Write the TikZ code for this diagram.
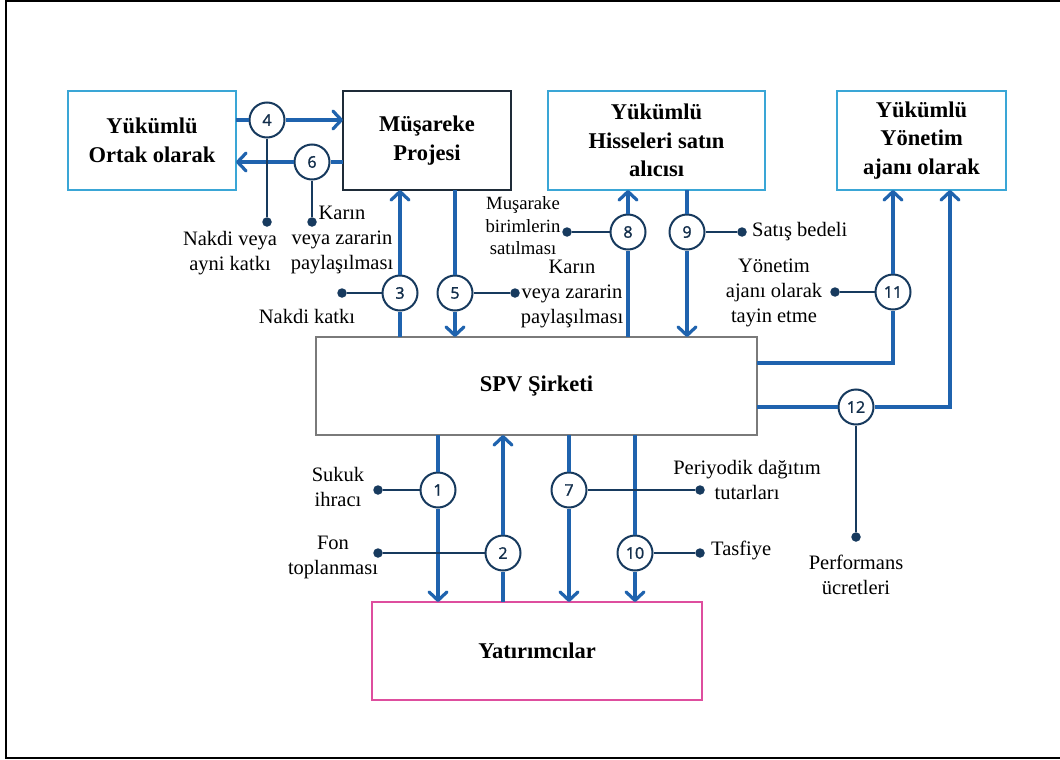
\documentclass[tikz,border=0pt]{standalone}
\usepackage{fontspec}
\setmainfont{Liberation Serif}
\newfontfamily\numfont{Open Sans}[FakeBold=1.6]
\usetikzlibrary{arrows.meta}
\definecolor{flowblue}{HTML}{1F63AE}
\definecolor{navy}{HTML}{173A5E}
\definecolor{cyanbox}{HTML}{3AA6D6}
\definecolor{magbox}{HTML}{DE4E9E}
\definecolor{spvgray}{HTML}{7A7A7A}
\definecolor{darkbox}{HTML}{1E2B38}

\begin{document}
\begin{tikzpicture}[x=1pt,y=-1pt,
  box/.style={draw, line width=2pt, inner sep=0pt, outer sep=0pt, align=center,
    font=\fontsize{22.5}{28.5}\selectfont\bfseries},
  num/.style={circle, draw=navy, line width=2pt, fill=white, minimum size=35pt,
    inner sep=0pt, font=\numfont\fontsize{16}{16}\selectfont, text=navy!80!black},
  dot/.style={circle, fill=navy, minimum size=9.5pt, inner sep=0pt},
  lab/.style={align=center, inner sep=0pt, font=\fontsize{20.5}{25}\selectfont},
  smalllab/.style={align=center, inner sep=0pt, font=\fontsize{18.7}{22.5}\selectfont},
  flow/.style={draw=flowblue, line width=3.2pt,
    -{Straight Barb[length=8.5pt,width=18pt,line cap=round,line join=round]}},
  tick/.style={draw=navy, line width=2pt}
]
\useasboundingbox (0,0) rectangle (1060,760);
\fill[white] (0,0) rectangle (1060,760);

% frame
\draw[line width=1.8pt] (1070,1) -- (6,1) -- (6,758) -- (1070,758);

% parties
\node[box, draw=cyanbox, minimum width=168pt, minimum height=99pt] (ortak) at (152,140.5) {Yükümlü\\Ortak olarak};
\node[box, draw=darkbox, minimum width=168pt, minimum height=99pt] (mus) at (427,140.5) {Müşareke\\Projesi};
\node[box, draw=cyanbox, minimum width=217pt, minimum height=99pt] (his) at (656.5,140.5) {Yükümlü\\Hisseleri satın\\alıcısı};
\node[box, draw=cyanbox, minimum width=169pt, minimum height=99pt] (yon) at (921.5,140.5) {Yükümlü\\Yönetim\\ajanı olarak};
\node[box, draw=spvgray, minimum width=441pt, minimum height=98pt] (spv) at (536.5,386) {SPV Şirketi};
\node[box, draw=magbox, minimum width=330pt, minimum height=98pt] (yat) at (537,651) {Yatırımcılar};

% step markers
\node[num] (c4) at (267,120) {4};
\node[num] (c6) at (312,162) {6};
\node[num] (c3) at (400,293) {3};
\node[num] (c5) at (455,293) {5};
\node[num] (c8) at (628,232) {8};
\node[num] (c9) at (687,232) {9};
\node[num] (c11) at (893,292) {11};
\node[num] (c12) at (856,407) {12};
\node[num] (c1) at (438,490) {1};
\node[num] (c2) at (503,553) {2};
\node[num] (c7) at (569,490) {7};
\node[num] (c10) at (635,553) {10};

% label dots
\node[dot] (d4) at (267,222) {};
\node[dot] (d6) at (312,222) {};
\node[dot] (d3) at (342,293) {};
\node[dot] (d5) at (515,293) {};
\node[dot] (d8) at (567,232) {};
\node[dot] (d9) at (742,232) {};
\node[dot] (d11) at (835,292) {};
\node[dot] (d12) at (856,537) {};
\node[dot] (d1) at (378,490) {};
\node[dot] (d2) at (378,553) {};
\node[dot] (d7) at (700,490) {};
\node[dot] (d10) at (700,553) {};

% corners of the routed flows
\coordinate (k11) at (893,363);
\coordinate (k12) at (950,407);

% flows
\draw[flow] (ortak.east |- c4) -- (c4) -- (mus.west |- c4);
\draw[flow] (mus.west |- c6) -- (c6) -- (ortak.east |- c6);
\draw[flow] (spv.north -| c3) -- (c3) -- (mus.south -| c3);
\draw[flow] (mus.south -| c5) -- (c5) -- (spv.north -| c5);
\draw[flow] (spv.north -| c8) -- (c8) -- (his.south -| c8);
\draw[flow] (his.south -| c9) -- (c9) -- (spv.north -| c9);
\draw[flow] (spv.east |- k11) -- (k11) -- (c11) -- (yon.south -| c11);
\draw[flow] (spv.east |- c12) -- (c12) -- (k12) -- (yon.south -| k12);
\draw[flow] (spv.south -| c1) -- (c1) -- (yat.north -| c1);
\draw[flow] (yat.north -| c2) -- (c2) -- (spv.south -| c2);
\draw[flow] (spv.south -| c7) -- (c7) -- (yat.north -| c7);
\draw[flow] (spv.south -| c10) -- (c10) -- (yat.north -| c10);

% label leaders
\draw[tick] (c4) -- (d4);
\draw[tick] (c6) -- (d6);
\draw[tick] (c3) -- (d3);
\draw[tick] (c5) -- (d5);
\draw[tick] (c8) -- (d8);
\draw[tick] (c9) -- (d9);
\draw[tick] (c11) -- (d11);
\draw[tick] (c12) -- (d12);
\draw[tick] (c1) -- (d1);
\draw[tick] (c2) -- (d2);
\draw[tick] (c7) -- (d7);
\draw[tick] (c10) -- (d10);

% labels
\node[lab] (l4) at (230,253) {Nakdi veya\\ayni katkı};
\node[lab] (l6) at (342,240) {Karın\\veya zararin\\paylaşılması};
\node[lab] (l3) at (307,316) {Nakdi katkı};
\node[lab] (l5) at (572,294) {Karın\\veya zararin\\paylaşılması};
\node[smalllab] (l8) at (523,226) {Muşarake\\birimlerin\\satılması};
\node[lab, anchor=west] (l9) at (752,232) {Satış bedeli};
\node[lab] (l11) at (774,293) {Yönetim\\ajanı olarak\\tayin etme};
\node[lab] (l12) at (856,575) {Performans\\ücretleri};
\node[lab] (l1) at (338,487) {Sukuk\\ihracı};
\node[lab] (l2) at (333,557) {Fon\\toplanması};
\node[lab] (l7) at (747,480) {Periyodik dağıtım\\tutarları};
\node[lab, anchor=west] (l10) at (711,550) {Tasfiye};
\end{tikzpicture}
\end{document}
